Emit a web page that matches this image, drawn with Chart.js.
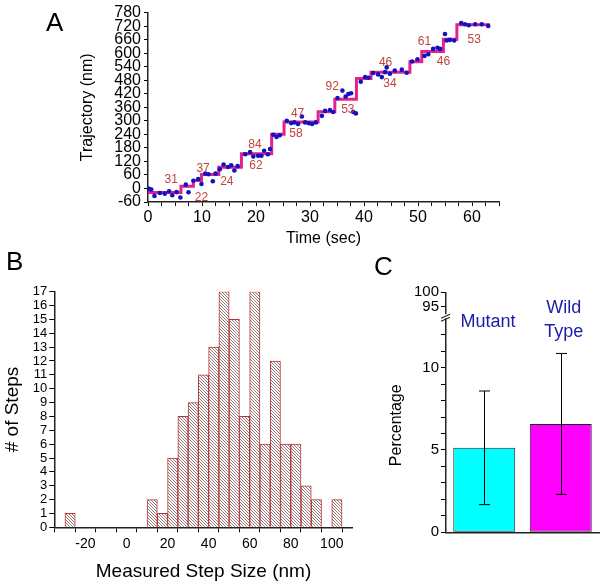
<!DOCTYPE html>
<html>
<head>
<meta charset="utf-8">
<script src="https://cdn.jsdelivr.net/npm/chart.js@4.4.1/dist/chart.umd.min.js"></script>
<style>
  body { margin: 0; background: #fff; }
  #wrap { position: relative; width: 600px; height: 583px; overflow: hidden; font-family: "Liberation Sans", Arial, sans-serif; }
  canvas { position: absolute; }
  .panel { position: absolute; font-size: 26px; line-height: 1; color: #000; }
</style>
</head>
<body>
<div id="wrap">
  <canvas id="chartA" width="520" height="250" style="left:0;top:0"></canvas>
  <canvas id="chartB" width="370" height="333" style="left:0;top:250px"></canvas>
  <canvas id="chartC" width="230" height="333" style="left:370px;top:250px"></canvas>
  <div class="panel" style="left:46px;top:9px">A</div>
  <div class="panel" style="left:6px;top:248px">B</div>
  <div class="panel" style="left:374px;top:253px">C</div>
</div>
<script>
// panel A: step fit (start time of each dwell, level in nm) and raw points
const stepTimes = [0, 6.1, 8.4, 9.9, 13.1, 17.3, 22.9, 25.2, 31.5, 34.6, 38.6, 41.3, 48.5, 50.7, 54.7, 57.2, 63.3];
const stepLevels = [-18, 10, 35, 62, 94, 154, 240, 295, 340, 396, 488, 515, 562, 607, 662, 726, 726];

const dotTime = [0.2, 0.6, 1.2, 2.2, 3.1, 3.9, 4.5, 5.3, 6.0, 7.0, 7.5, 8.4, 9.3, 9.9, 10.6, 11.2, 12.0, 12.5,
  13.3, 14.0, 14.8, 15.4, 16.0, 16.6, 18.0, 18.9, 19.5, 20.4, 21.0, 21.5, 22.2, 22.6, 23.2, 23.8, 24.4,
  25.7, 26.5, 27.1, 27.8, 28.5, 29.1, 29.8, 30.4, 31.1, 32.2, 32.8, 33.7, 34.3, 35.1, 36.0, 36.6, 37.1,
  37.6, 38.0, 38.5, 39.4, 40.2, 40.8, 41.7, 42.6, 43.3, 43.9, 44.2, 44.8, 45.7, 47.0, 47.9, 48.9, 49.9,
  51.2, 51.9, 52.8, 53.6, 54.1, 55.0, 55.3, 55.9, 56.7, 58.0, 58.7, 59.4, 60.6, 61.8, 63.0];
const dotNm = [-1, -5, -33, -20, -23, -12, -30, -16, -40, 17, -17, 34, 42, 20, 66, 63, 32, 66,
  85, 106, 95, 103, 80, 99, 152, 161, 142, 145, 145, 167, 152, 175, 238, 228, 236,
  300, 290, 293, 286, 319, 293, 289, 286, 293, 322, 344, 348, 339, 401, 434, 408, 419,
  422, 339, 333, 473, 494, 491, 512, 506, 494, 516, 537, 509, 523, 527, 513, 563, 573,
  588, 595, 619, 624, 619, 685, 656, 659, 656, 734, 728, 724, 728, 728, 721];

const stepLabelText = ["31", "22", "37", "24", "84", "62", "58", "47", "92", "53", "46", "34", "61", "46", "53"];
const stepLabelTime = [4.3, 9.9, 10.2, 14.6, 19.8, 20.0, 27.4, 27.7, 34.1, 37.0, 44.0, 44.8, 51.2, 54.7, 60.4];
const stepLabelNm = [37, -40, 89, 31, 193, 102, 243, 333, 451, 348, 556, 466, 650, 562, 659];

// panel B: histogram, 5 nm bins (left edge of each bin)
const binStart = [-30, -25, -20, -15, -10, -5, 0, 5, 10, 15, 20, 25, 30, 35, 40, 45, 50, 55, 60, 65, 70, 75, 80, 85, 90, 95, 100];
const stepCounts = [1, 0, 0, 0, 0, 0, 0, 0, 2, 1, 5, 8, 9, 11, 13, 17, 15, 8, 17, 6, 12, 6, 6, 3, 2, 0, 2];

// panel C
const groupNames = ["Mutant", "Wild Type"];
const groupMeans = [5.13, 6.58];
const groupErrors = [3.45, 4.28];
const groupColors = ["#00ffff", "#ff00ff"];
const groupLabelLines = [["Mutant"], ["Wild", "Type"]];
const groupLabelX = [0.05, 1.04];
const groupLabelY = [[12.45], [13.3, 11.84]];

const FONT = '"Liberation Sans", Arial, sans-serif';
Chart.defaults.font.family = FONT;
Chart.defaults.color = "#000";
Chart.defaults.animation = false;

const axisBase = {
  grid: { drawOnChartArea: false, color: "#000", tickLength: 4, tickWidth: 1 },
  border: { color: "#222", width: 1.5 },
};

// evenly spaced tick values from a to b
function tickRange(a, b, step) {
  const out = [];
  for (let k = 0; a + k * step <= b + 1e-9; k++) out.push({ value: +(a + k * step).toFixed(6) });
  return out;
}

const stepLabelPlugin = {
  id: "stepLabels",
  afterDatasetsDraw(chart) {
    const { ctx, scales: { x, y } } = chart;
    ctx.save();
    ctx.fillStyle = "#c0443a";
    ctx.font = "12px " + FONT;
    ctx.textAlign = "center";
    ctx.textBaseline = "middle";
    stepLabelText.forEach((s, i) => {
      ctx.fillText(s, x.getPixelForValue(stepLabelTime[i]), y.getPixelForValue(stepLabelNm[i]));
    });
    ctx.restore();
  },
};

new Chart(document.getElementById("chartA"), {
  type: "scatter",
  data: {
    datasets: [
      {
        label: "raw",
        data: dotTime.map((t, i) => ({ x: t, y: dotNm[i] })),
        backgroundColor: "#1212c0",
        borderWidth: 0,
        pointRadius: 2.3,
      },
      {
        type: "line",
        label: "fit",
        data: stepTimes.map((t, i) => ({ x: t, y: stepLevels[i] })),
        stepped: "before",
        borderColor: "#e6208c",
        borderWidth: 3,
        pointRadius: 0,
        fill: false,
      },
    ],
  },
  options: {
    responsive: false,
    layout: { padding: { top: 7, right: 21, left: 0, bottom: 0 } },
    plugins: { legend: { display: false }, tooltip: { enabled: false } },
    scales: {
      x: {
        ...axisBase,
        type: "linear",
        min: 0,
        max: 65,
        afterBuildTicks: (s) => { s.ticks = tickRange(0, 65, 2.5); },
        afterFit: (s) => { s.height = 48; },
        ticks: {
          autoSkip: false,
          maxRotation: 0,
          padding: 2,
          font: { size: 16 },
          callback: (v) => (v % 10 === 0 ? v : ""),
        },
        title: { display: true, text: "Time (sec)", font: { size: 16 }, padding: { top: 0, bottom: 2 } },
      },
      y: {
        ...axisBase,
        min: -60,
        max: 780,
        afterBuildTicks: (s) => { s.ticks = tickRange(-60, 780, 60); },
        afterFit: (s) => { s.width = 148; },
        ticks: { autoSkip: false, padding: 3, font: { size: 16 } },
        title: { display: true, text: "Trajectory (nm)", font: { size: 16 }, padding: { top: 78, bottom: 0 } },
      },
    },
  },
  plugins: [stepLabelPlugin],
});

function makeHatch() {
  const c = document.createElement("canvas");
  c.width = 3;
  c.height = 3;
  const g = c.getContext("2d");
  g.fillStyle = "#fff";
  g.fillRect(0, 0, 3, 3);
  g.strokeStyle = "#8a6a6a";
  g.lineWidth = 0.9;
  g.beginPath();
  g.moveTo(-1, -1); g.lineTo(4, 4);
  g.moveTo(-1, 2); g.lineTo(1, 4);
  g.moveTo(2, -1); g.lineTo(4, 1);
  g.stroke();
  return g.createPattern(c, "repeat");
}

new Chart(document.getElementById("chartB"), {
  type: "bar",
  data: {
    datasets: [
      {
        label: "steps",
        data: binStart.map((b, i) => ({ x: b + 2.5, y: stepCounts[i] })),
        backgroundColor: makeHatch(),
        borderColor: "#b83232",
        borderWidth: 1,
        barPercentage: 1,
        categoryPercentage: 1,
      },
    ],
  },
  options: {
    responsive: false,
    layout: { padding: { top: 41.7, right: 17.3, left: 0, bottom: 0 } },
    plugins: { legend: { display: false }, tooltip: { enabled: false } },
    scales: {
      x: {
        ...axisBase,
        type: "linear",
        min: -30,
        max: 105,
        grid: { ...axisBase.grid, tickLength: 5 },
        afterBuildTicks: (s) => { s.ticks = tickRange(-30, 100, 10); },
        afterFit: (s) => { s.height = 55.7; },
        ticks: {
          autoSkip: false,
          maxRotation: 0,
          padding: 3,
          font: { size: 14 },
          callback: (v) => (v % 20 === 0 ? v : ""),
        },
        title: { display: true, text: "Measured Step Size (nm)", font: { size: 19 }, padding: { top: 0, bottom: 0 } },
      },
      y: {
        ...axisBase,
        min: 0,
        max: 17,
        grid: { ...axisBase.grid, tickLength: 5 },
        afterBuildTicks: (s) => { s.ticks = tickRange(0, 17, 1); },
        afterFit: (s) => { s.width = 54.3; },
        ticks: { autoSkip: false, padding: 2, font: { size: 13 } },
        title: { display: true, text: "# of Steps", font: { size: 19 }, padding: { top: 1.5, bottom: 0 } },
      },
    },
  },
});

const errorBarPlugin = {
  id: "errorBars",
  afterDatasetsDraw(chart) {
    const { ctx, scales: { x, y, yTop } } = chart;
    ctx.save();
    ctx.strokeStyle = "#000";
    ctx.lineWidth = 1;
    groupNames.forEach((n, i) => {
      const px = Math.round(x.getPixelForValue(i)) + 0.5;
      const top = y.getPixelForValue(groupMeans[i] + groupErrors[i]);
      const bot = y.getPixelForValue(groupMeans[i] - groupErrors[i]);
      ctx.beginPath();
      ctx.moveTo(px, top); ctx.lineTo(px, bot);
      ctx.moveTo(px - 5.5, top); ctx.lineTo(px + 5.5, top);
      ctx.moveTo(px - 5.5, bot); ctx.lineTo(px + 5.5, bot);
      ctx.stroke();
    });
    // group names
    ctx.fillStyle = "#1c1ca8";
    ctx.font = "18px " + FONT;
    ctx.textAlign = "center";
    ctx.textBaseline = "alphabetic";
    groupLabelLines.forEach((lines, i) => {
      lines.forEach((s, k) => {
        ctx.fillText(s, x.getPixelForValue(groupLabelX[i]), y.getPixelForValue(groupLabelY[i][k]));
      });
    });
    // axis break marks between the two stacked y ranges
    const ax = y.right;
    const yb = Math.min(y.top, yTop.top) + (y.top > yTop.top ? yTop.height : y.height) - 1;
    ctx.fillStyle = "#fff";
    ctx.fillRect(ax - 2, yb - 3, 4, 4);
    ctx.strokeStyle = "#222";
    ctx.lineWidth = 1.2;
    ctx.beginPath();
    ctx.moveTo(ax - 5, yb + 1); ctx.lineTo(ax + 4, yb - 3);
    ctx.moveTo(ax - 5, yb + 4); ctx.lineTo(ax + 4, yb);
    ctx.stroke();
    ctx.restore();
  },
};

new Chart(document.getElementById("chartC"), {
  type: "bar",
  data: {
    labels: groupNames,
    datasets: [
      {
        label: "Percentage",
        data: groupMeans,
        backgroundColor: groupColors,
        borderColor: "#222",
        borderWidth: 1,
        borderSkipped: false,
        barPercentage: 0.81,
        categoryPercentage: 1,
        yAxisID: "y",
      },
    ],
  },
  options: {
    responsive: false,
    layout: { padding: { top: 42.3, right: 1, left: 0, bottom: 0 } },
    plugins: { legend: { display: false }, tooltip: { enabled: false } },
    scales: {
      y: {
        ...axisBase,
        position: "left",
        stack: "pct",
        stackWeight: 214.1,
        min: 0,
        max: 13,
        grid: { ...axisBase.grid, tickLength: 5 },
        afterBuildTicks: (s) => { s.ticks = tickRange(0, 12, 1); },
        afterFit: (s) => { s.width = 76; },
        ticks: {
          autoSkip: false,
          padding: 2,
          font: { size: 15 },
          callback: (v) => (v % 5 === 0 ? v : ""),
        },
        title: { display: true, text: "Percentage", font: { size: 16 }, padding: { top: 17.4, bottom: 0 } },
      },
      yTop: {
        ...axisBase,
        position: "left",
        stack: "pct",
        stackWeight: 25.9,
        min: 91,
        max: 100,
        grid: { ...axisBase.grid, tickLength: 5 },
        afterBuildTicks: (s) => { s.ticks = [{ value: 95 }, { value: 100 }]; },
        afterFit: (s) => { s.width = 76; },
        ticks: { autoSkip: false, padding: 2, font: { size: 15 } },
      },
      x: {
        type: "category",
        grid: { display: false },
        border: { color: "#222", width: 1.5 },
        ticks: { display: false },
        afterFit: (s) => { s.height = 50.7; },
      },
    },
  },
  plugins: [errorBarPlugin],
});
</script>
</body>
</html>
